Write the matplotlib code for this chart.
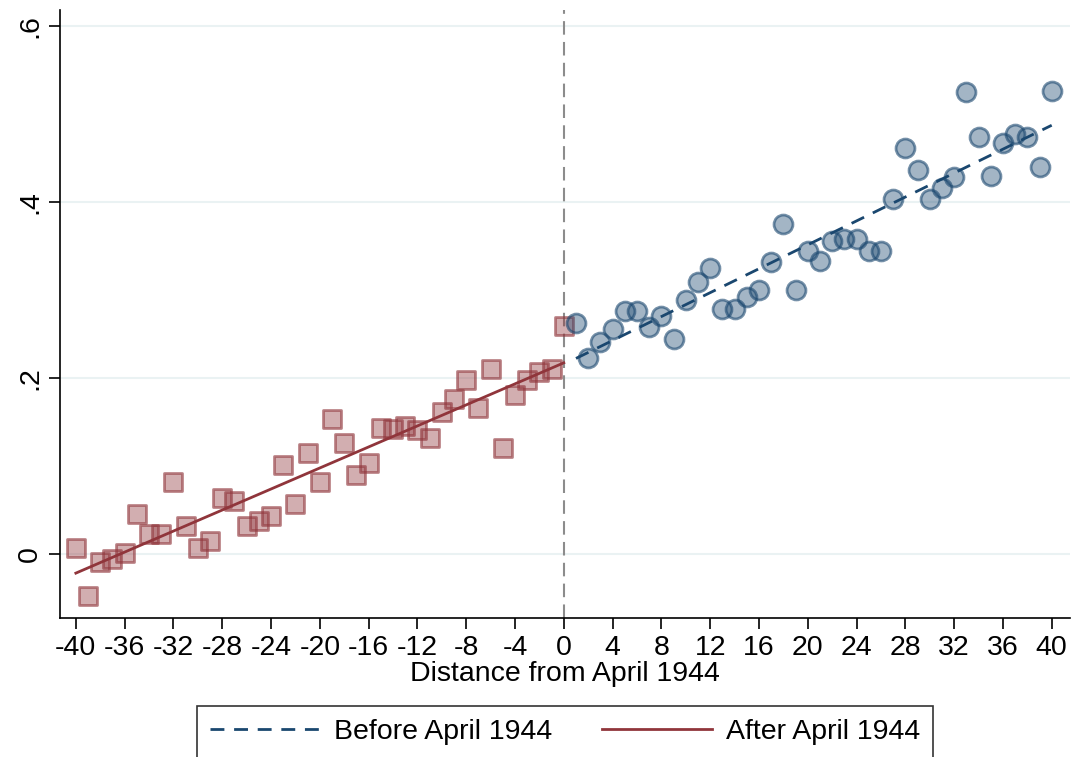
import numpy as np
import matplotlib
matplotlib.use("Agg")
import matplotlib.pyplot as plt

plt.rcParams['font.family'] = ['Liberation Sans', 'DejaVu Sans']

# ---- data ----
after_x = list(range(-40, 1))
after_y = [0.007, -0.048, -0.009, -0.006, 0.001, 0.045, 0.022, 0.023, 0.081, 0.031,
           0.007, 0.014, 0.063, 0.060, 0.031, 0.037, 0.043, 0.101, 0.056, 0.115,
           0.081, 0.153, 0.126, 0.089, 0.103, 0.143, 0.142, 0.145, 0.141, 0.132,
           0.161, 0.176, 0.197, 0.166, 0.210, 0.120, 0.181, 0.198, 0.207, 0.210,
           0.259]
before_x = list(range(1, 41))
before_y = [0.262, 0.223, 0.241, 0.256, 0.276, 0.276, 0.258, 0.270, 0.244, 0.288,
            0.309, 0.325, 0.278, 0.278, 0.292, 0.300, 0.332, 0.375, 0.300, 0.344,
            0.333, 0.355, 0.358, 0.358, 0.344, 0.344, 0.403, 0.461, 0.436, 0.403,
            0.416, 0.428, 0.525, 0.474, 0.429, 0.467, 0.477, 0.474, 0.439, 0.526]
after_fit_x = [-40, 0]
after_fit_y = [-0.022, 0.217]
before_fit_x = [1, 40]
before_fit_y = [0.222, 0.487]
xticks = list(range(-40, 41, 4))
yticks = [0, 0.2, 0.4, 0.6]
ytick_labels = ["0", ".2", ".4", ".6"]

red = (144/255, 53/255, 59/255)
blue = (26/255, 71/255, 111/255)

fig = plt.figure(figsize=(10.73, 7.57), dpi=100)
ax = fig.add_axes([60/1073, 1-618/757, 1010/1073, 608/757])

for y in yticks:
    ax.axhline(y, color="#eaf2f3", lw=1.5, zorder=0)
ax.axvline(0, color="#8c8c8c", lw=1.5, ls=(0, (6.5, 3.5)), zorder=1)

ax.scatter(after_x, after_y, marker="s", s=165, facecolor=(*red, 0.4),
           edgecolor=(*red, 0.6), linewidth=2, zorder=3)
ax.scatter(before_x, before_y, marker="o", s=185, facecolor=(*blue, 0.4),
           edgecolor=(*blue, 0.6), linewidth=2, zorder=3)

l1, = ax.plot(before_fit_x, before_fit_y, color=blue, lw=2, ls=(0, (5, 3.5)), zorder=4)
l2, = ax.plot(after_fit_x, after_fit_y, color=red, lw=2, zorder=4)

ax.set_xlim(-41.3, 41.5)
ax.set_ylim(-0.073, 0.618)
ax.set_xticks(xticks)
ax.set_xticklabels([str(t) for t in xticks], fontsize=20.5)
ax.set_yticks(yticks)
ax.set_yticklabels(ytick_labels, fontsize=20.5, rotation=90, va="center")
ax.tick_params(axis="both", direction="out", length=8, width=1.2, color="black", pad=4)
for s in ["top", "right"]:
    ax.spines[s].set_visible(False)
for s in ["left", "bottom"]:
    ax.spines[s].set_linewidth(1.2)
ax.set_xlabel("Distance from April 1944", fontsize=20.5, labelpad=0)

leg = fig.legend([l1, l2], ["Before April 1944", "After April 1944"],
                 loc="upper center", bbox_to_anchor=(565/1073, 1-706/757), ncol=2,
                 fontsize=20.5, frameon=True, fancybox=False, edgecolor="black",
                 handlelength=3.86, handletextpad=0.5, columnspacing=1.75,
                 borderpad=0.45, borderaxespad=0)
leg.get_frame().set_linewidth(1.2)

fig.savefig("out.png", dpi=100)
